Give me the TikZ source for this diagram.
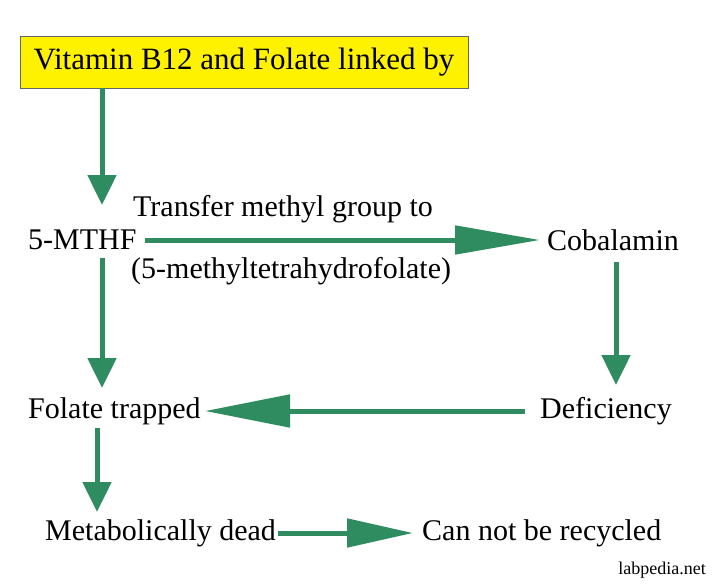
\documentclass[tikz,border=0pt]{standalone}
\usepackage{fontspec}
\setmainfont{Liberation Serif}
\usetikzlibrary{arrows.meta}
\definecolor{gr}{RGB}{46,140,96}
\begin{document}
\begin{tikzpicture}[x=1pt,y=-1pt,
  lbl/.style={font=\fontsize{30}{34}\selectfont,inner sep=0pt,anchor=west},
  ar/.style={draw=gr,line width=5pt,-{Triangle[length=#1,width=28pt]}},
  ar/.default=30pt]
\useasboundingbox[fill=white] (0,0) rectangle (720,586);
\node[draw=black!60,fill=yellow,minimum width=448pt,minimum height=52pt,inner sep=0pt,
  font=\fontsize{31}{34}\selectfont] (vb) at (244,62) {Vitamin B12 and Folate linked by};
\node[lbl] (m) at (28,240) {5-MTHF};
\node[lbl] (t1) at (133,209) {Transfer methyl group to};
\node[lbl] (t2) at (131,271) {(5-methyltetrahydrofolate)};
\node[lbl] (c) at (547,240) {Cobalamin};
\node[lbl] (d) at (540,411) {Deficiency};
\node[lbl] (f) at (28,411) {Folate trapped};
\node[lbl] (md) at (45,533) {Metabolically dead};
\node[lbl] (cr) at (422,533) {Can not be recycled};
\node[font=\fontsize{18}{20}\selectfont,inner sep=0pt,anchor=east] (lp) at (706,570) {labpedia.net};
\coordinate (a1) at (102,205);
\coordinate (a2) at (102,388);
\coordinate (a3) at (616,385);
\coordinate (a4) at (97,512);
\coordinate (h1) at (145,240); \coordinate (h2) at (540,240);
\coordinate (l1) at (525,411); \coordinate (l2) at (205,411);
\coordinate (b1) at (278,533); \coordinate (b2) at (413,533);
\draw[ar] (vb.south -| a1) -- (a1);
\draw[ar=85pt] (h1) -- (h2);
\draw[ar] (102,258) -- (a2);
\draw[ar] (616,262) -- (a3);
\draw[draw=gr,line width=5pt,-{Triangle[length=85pt,width=32pt]}] (l1) -- (l2);
\draw[ar] (97,428) -- (a4);
\draw[draw=gr,line width=5pt,-{Triangle[length=66pt,width=28pt]}] (b1) -- (b2);
\end{tikzpicture}
\end{document}
